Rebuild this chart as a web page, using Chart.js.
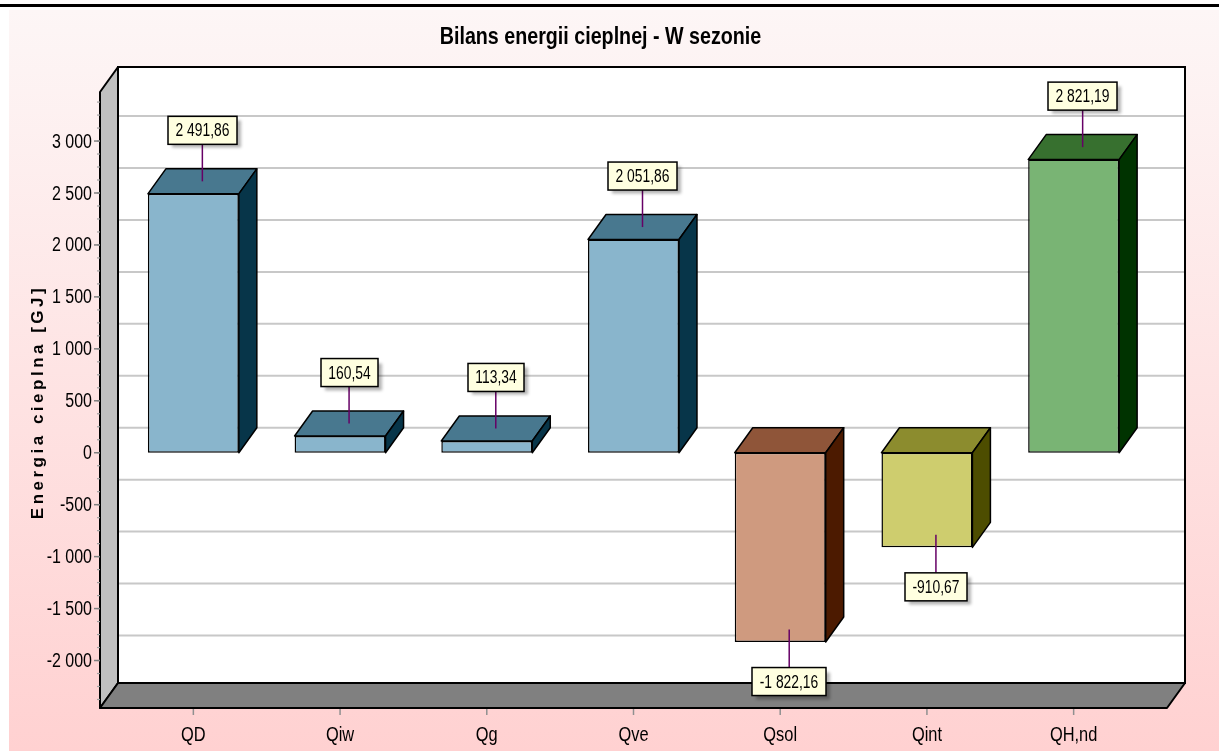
<!DOCTYPE html>
<html><head><meta charset="utf-8">
<script src="https://cdn.jsdelivr.net/npm/chart.js@4/dist/chart.umd.min.js"></script>
<style>html,body{margin:0;padding:0;background:#fff;}canvas{display:block;}</style>
</head><body>
<canvas id="c" width="1219" height="751"></canvas>
<script>
// ---- data ----
const categories = ['QD', 'Qiw', 'Qg', 'Qve', 'Qsol', 'Qint', 'QH,nd'];
const energyGJ = [2491.86, 160.54, 113.34, 2051.86, -1822.16, -910.67, 2821.19];
const yTickValues = [-2000, -1500, -1000, -500, 0, 500, 1000, 1500, 2000, 2500, 3000];
const yAxisMin = -2457;
const yAxisMax = 3472;
const yMinorStep = 125;
const chartTitle = 'Bilans energii cieplnej - W sezonie';
const yAxisTitle = 'Energia cieplna [GJ]';

// ---- styles ----
const frontColors = ['#89b5cc', '#89b5cc', '#89b5cc', '#89b5cc', '#cf9a7f', '#cecd6e', '#79b474'];
const topColors   = ['#48788f', '#48788f', '#48788f', '#48788f', '#8f5539', '#8c8c2e', '#37702f'];
const sideColors  = ['#073549', '#073549', '#073549', '#073549', '#4c1a00', '#4d4d00', '#003300'];
const SANS = "'Liberation Sans',Arial,sans-serif";
const NARROW_X = 0.82;
const DX = 18, DY = -25, EXT = 20;

function fmt(v, dec) {
  const neg = v < 0;
  const s = Math.abs(v).toFixed(dec);
  let [i, f] = s.split('.');
  i = i.replace(/\B(?=(\d{3})+(?!\d))/g, ' ');
  return (neg ? '-' : '') + i + (f ? ',' + f : '');
}
function poly(c, pts, fill, stroke, lw) {
  c.beginPath();
  c.moveTo(pts[0][0], pts[0][1]);
  for (let k = 1; k < pts.length; k++) c.lineTo(pts[k][0], pts[k][1]);
  c.closePath();
  if (fill) { c.fillStyle = fill; c.fill(); }
  if (stroke) { c.strokeStyle = stroke; c.lineWidth = lw || 1.5; c.lineJoin = 'round'; c.stroke(); }
}
function seg(c, x1, y1, x2, y2, col, lw) {
  c.beginPath(); c.moveTo(x1, y1); c.lineTo(x2, y2);
  c.strokeStyle = col; c.lineWidth = lw; c.stroke();
}
function ntext(c, txt, x, y, font, align, baseline, sx) {
  c.save();
  c.translate(x, y);
  c.scale(sx || NARROW_X, 1);
  c.font = font; c.fillStyle = '#000';
  c.textAlign = align; c.textBaseline = baseline;
  c.fillText(txt, 0, 0);
  c.restore();
}

const frame3d = {
  id: 'frame3d',
  beforeDraw(chart) {
    const c = chart.ctx, W = chart.width, H = chart.height;
    c.save();
    const g = c.createLinearGradient(0, 10, 0, H);
    g.addColorStop(0, '#fdf6f6');
    g.addColorStop(1, '#ffd1d1');
    c.fillStyle = g; c.fillRect(9, 10, W - 9, H - 10);
    c.fillStyle = '#000'; c.fillRect(0, 4, W, 3);

    const a = chart.chartArea, ys = chart.scales.y, xs = chart.scales.x;
    const fl = a.left - EXT, fr = a.right + EXT, ft = a.top, fb = a.bottom;
    // back wall
    c.fillStyle = '#fff';
    c.fillRect(fl + DX, ft + DY, fr - fl, fb - ft);
    ys.ticks.forEach(t => {
      const py = ys.getPixelForValue(t.value) + DY;
      seg(c, fl + DX, py, fr + DX, py, '#c8c8c8', 2);
    });
    c.strokeStyle = '#000'; c.lineWidth = 2;
    c.strokeRect(fl + DX, ft + DY, fr - fl, fb - ft);
    // left wall
    poly(c, [[fl, ft], [fl + DX, ft + DY], [fl + DX, fb + DY], [fl, fb]], '#c0c0c0', '#000', 2);
    // floor
    poly(c, [[fl + DX, fb + DY], [fr + DX, fb + DY], [fr, fb], [fl, fb]], '#808080', '#000', 2);
    // y ticks (minor + major) and labels
    for (let v = Math.ceil(yAxisMin / yMinorStep) * yMinorStep; v <= yAxisMax; v += yMinorStep) {
      const py = ys.getPixelForValue(v);
      seg(c, fl - 3, py, fl, py, '#a0a0a0', 1.2);
    }
    ys.ticks.forEach(t => {
      const py = ys.getPixelForValue(t.value);
      seg(c, fl - 6, py, fl, py, '#808080', 1.5);
      ntext(c, fmt(t.value, 0), fl - 8, py + 1, '20px ' + SANS, 'right', 'middle', 0.8);
    });
    // x ticks and labels
    xs.ticks.forEach((t, i) => {
      const px = xs.getPixelForTick(i);
      seg(c, px, fb + 1, px, fb + 7, '#909090', 1.5);
      ntext(c, categories[i], px, 735, '20px ' + SANS, 'center', 'middle');
    });
    // title
    ntext(c, chartTitle, 600.5, 44, 'bold 24px ' + SANS, 'center', 'alphabetic');
    // y axis title
    c.save();
    c.translate(43, 402);
    c.rotate(-Math.PI / 2);
    c.font = 'bold 17px ' + SANS;
    c.letterSpacing = '3.5px';
    c.fillStyle = '#000';
    c.textAlign = 'center';
    c.fillText(yAxisTitle, 0, 0);
    c.restore();
    c.restore();
  },
  afterDatasetsDraw(chart) {
    const c = chart.ctx;
    const meta = chart.getDatasetMeta(0);
    c.save();
    meta.data.forEach((el, i) => {
      const w = el.width;
      const l = el.x - w / 2, r = el.x + w / 2;
      const top = Math.min(el.y, el.base), bot = Math.max(el.y, el.base);
      poly(c, [[l, top], [l + DX, top + DY], [r + DX, top + DY], [r, top]], topColors[i], '#000', 1.5);
      poly(c, [[r, top], [r + DX, top + DY], [r + DX, bot + DY], [r, bot]], sideColors[i], '#000', 1.5);
    });
    c.restore();
  },
  afterDraw(chart) {
    const c = chart.ctx;
    const meta = chart.getDatasetMeta(0);
    c.save();
    const font = '18px ' + SANS;
    const sx = 0.77;
    c.font = font;
    meta.data.forEach((el, i) => {
      const v = energyGJ[i];
      const txt = fmt(v, 2);
      const tw = c.measureText(txt).width * sx;
      const bw = Math.round(tw + 15), bh = 28;
      const ax = el.x + DX / 2, ay = el.y + DY / 2;
      let lineEnd, by;
      if (v >= 0) { lineEnd = ay - 37; by = lineEnd - bh; }
      else { lineEnd = ay + 38; by = lineEnd; }
      const bx = Math.round(ax - bw / 2);
      seg(c, ax, ay, ax, lineEnd, '#660066', 1.5);
      c.save();
      c.shadowColor = 'rgba(0,0,0,0.3)';
      c.shadowBlur = 3; c.shadowOffsetX = 4; c.shadowOffsetY = 4;
      c.fillStyle = '#ffffe0';
      c.fillRect(bx, by, bw, bh);
      c.restore();
      c.strokeStyle = '#000'; c.lineWidth = 1.5;
      c.strokeRect(bx, by, bw, bh);
      ntext(c, txt, bx + bw / 2, by + bh / 2 + 1, font, 'center', 'middle', sx);
      c.font = font;
    });
    c.restore();
  }
};

new Chart(document.getElementById('c').getContext('2d'), {
  type: 'bar',
  data: {
    labels: categories,
    datasets: [{
      data: energyGJ,
      backgroundColor: frontColors,
      borderColor: '#000',
      borderWidth: 1.5,
      borderSkipped: false,
      barPercentage: 0.62,
      categoryPercentage: 1
    }]
  },
  options: {
    responsive: false,
    animation: false,
    devicePixelRatio: 1,
    layout: { padding: { left: 0, top: 92, right: 72, bottom: 0 } },
    plugins: { legend: { display: false }, tooltip: { enabled: false }, title: { display: false } },
    scales: {
      x: {
        grid: { display: false }, border: { display: false },
        ticks: { display: false },
        afterFit(s) { s.height = 43; }
      },
      y: {
        min: yAxisMin, max: yAxisMax,
        grid: { display: false }, border: { display: false },
        ticks: { display: false },
        afterBuildTicks(s) { s.ticks = yTickValues.map(v => ({ value: v })); },
        afterFit(s) { s.width = 120; }
      }
    }
  },
  plugins: [frame3d]
});
</script>
</body></html>
